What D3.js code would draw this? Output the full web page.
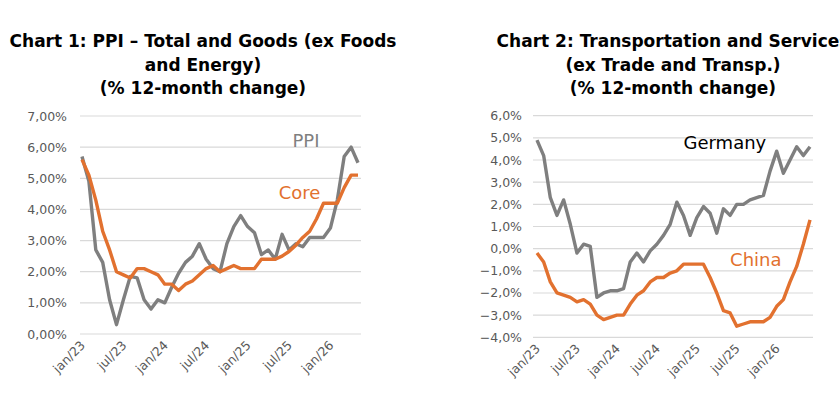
<!DOCTYPE html><html><head><meta charset="utf-8"><script src="https://cdn.jsdelivr.net/npm/d3@7"></script>
<style>body{margin:0;background:#fff}text{font-family:"DejaVu Sans",sans-serif}</style></head><body><svg id="c" width="840" height="420"></svg><script>
const ppi=[5.7,4.9,2.7,2.3,1.1,0.3,1.1,1.85,1.8,1.1,0.8,1.1,1.0,1.5,1.95,2.3,2.5,2.9,2.4,2.1,2.0,2.9,3.45,3.8,3.45,3.25,2.55,2.7,2.4,3.2,2.7,2.9,2.8,3.1,3.1,3.1,3.4,4.3,5.7,6.0,5.5];
const core=[5.6,5.1,4.3,3.3,2.7,2.0,1.9,1.8,2.1,2.1,2.0,1.9,1.6,1.6,1.4,1.6,1.7,1.9,2.1,2.2,2.0,2.1,2.2,2.1,2.1,2.1,2.4,2.4,2.4,2.5,2.65,2.85,3.1,3.3,3.7,4.2,4.2,4.2,4.7,5.1,5.1];
const germany=[4.9,4.2,2.3,1.5,2.2,1.1,-0.2,0.2,0.1,-2.2,-2.0,-1.9,-1.9,-1.8,-0.6,-0.2,-0.6,-0.1,0.2,0.6,1.1,2.1,1.5,0.6,1.4,1.9,1.6,0.7,1.8,1.5,2.0,2.0,2.2,2.3,2.4,3.5,4.4,3.4,4.0,4.6,4.2,4.6];
const china=[-0.2,-0.6,-1.5,-2.0,-2.1,-2.2,-2.4,-2.3,-2.5,-3.0,-3.2,-3.1,-3.0,-3.0,-2.5,-2.1,-1.9,-1.5,-1.3,-1.3,-1.1,-1.0,-0.7,-0.7,-0.7,-0.7,-1.3,-2.0,-2.8,-2.9,-3.5,-3.4,-3.3,-3.3,-3.3,-3.1,-2.6,-2.3,-1.5,-0.8,0.2,1.3];
const xTicks=["jan/23","jul/23","jan/24","jul/24","jan/25","jul/25","jan/26"];
const yTicks1=[0,1,2,3,4,5,6,7];
const yTicks2=[-4,-3,-2,-1,0,1,2,3,4,5,6];
const svg=d3.select("#c");
const GRAY="#7f7f7f",OR="#e2712f";
function title(lines,cx){lines.forEach((t,i)=>svg.append("text").attr("x",cx).attr("y",47+i*23.5).attr("text-anchor","middle").attr("font-size",17).attr("font-weight","bold").attr("fill","#000").text(t));}
title(["Chart 1: PPI – Total and Goods (ex Foods","and Energy)","(% 12-month change)"],203);
title(["Chart 2: Transportation and Services","(ex Trade and Transp.)","(% 12-month change)"],673);
function chart(o){
 const x=d3.scaleLinear().domain([0,o.n-1]).range([o.x0,o.x1]);
 const y=d3.scaleLinear().domain(o.yd).range([o.yb,o.yt]);
 const g=svg.append("g");
 o.yt2.forEach(v=>{g.append("line").attr("x1",o.gx0).attr("x2",o.gx1).attr("y1",y(v)).attr("y2",y(v)).attr("stroke","#d9d9d9").attr("stroke-width",1.2);
  g.append("text").attr("x",o.lx).attr("y",y(v)+4.5).attr("text-anchor","end").attr("font-size",12.5).attr("fill","#595959").text(d3.format(o.fmt)(v).replace(".",",")+"%");});
 xTicks.forEach((t,i)=>{const xx=x(i*6);g.append("text").attr("transform",`translate(${xx+4},${o.yb+12}) rotate(-45)`).attr("text-anchor","end").attr("font-size",12.5).attr("fill","#595959").text(t);});
 const line=d3.line().x((d,i)=>x(i)).y(d=>y(d));
 o.series.forEach(s=>g.append("path").datum(s.d).attr("d",line).attr("fill","none").attr("stroke",s.c).attr("stroke-width",3.4).attr("stroke-linejoin","round"));
 o.labels.forEach(l=>g.append("text").attr("x",x(l.i)).attr("y",y(l.v)).attr("font-size",18).attr("fill",l.c).text(l.t));
}
chart({n:41,x0:82,x1:358,yd:[0,7],yb:334,yt:116,gx0:80,gx1:361,lx:67,fmt:".2f",yt2:yTicks1,
 series:[{d:ppi,c:GRAY},{d:core,c:OR}],
 labels:[{t:"PPI",i:30.5,v:6.0,c:GRAY},{t:"Core",i:28.5,v:4.35,c:OR}]});
chart({n:42,x0:537,x1:810,yd:[-4,6],yb:337.3,yt:115.7,gx0:533,gx1:813,lx:522,fmt:".1f",yt2:yTicks2,
 series:[{d:germany,c:GRAY},{d:china,c:OR}],
 labels:[{t:"Germany",i:22,v:4.5,c:"#000"},{t:"China",i:29,v:-0.8,c:OR}]});
</script></body></html>
